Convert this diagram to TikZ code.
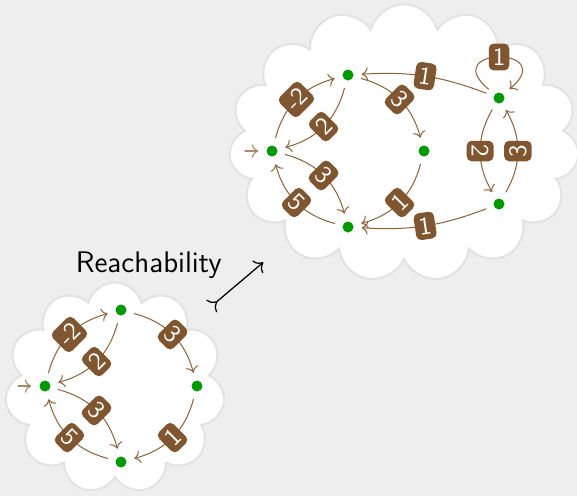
\documentclass[tikz,border=0pt]{standalone}
\usetikzlibrary{arrows.meta}
\usetikzlibrary{positioning}
\usetikzlibrary{shapes.symbols}
\definecolor{rcpaper}{HTML}{EEEEEE}
\definecolor{rcrim}{HTML}{E2E2E2}
\definecolor{rcbrown}{HTML}{7F5630}
\definecolor{rcline}{HTML}{8B6239}
\definecolor{rcstart}{HTML}{A88B6C}
\definecolor{rcgreen}{HTML}{009900}
\tikzset{
  rcstate/.style={
    circle, fill=rcgreen, minimum size=4.4pt, inner sep=0pt,
    outer sep=3.3pt},
  rcweight/.style={
    fill=rcbrown, text=white, rounded corners=2pt, inner xsep=1.6pt,
    inner ysep=2pt, font=\sffamily, sloped},
  rcedge/.style={->, draw=rcline, line width=0.4pt},
  rcinit/.style={->, draw=rcstart, line width=0.45pt},
  rccloud/.style={
    cloud, cloud ignores aspect, draw=rcrim, fill=white,
    line width=0.8pt, cloud puffs=11},
  rcreach/.style={{To[reversed, scale=1.15]}-{To[scale=1.15]}, draw=black,
    line width=0.5pt, shorten <=12pt, shorten >=12.4pt},
  rclabel/.style={font=\sffamily\fontsize{11.9}{14}\selectfont},
  every picture/.style={line cap=round},
}
\begin{document}
\begin{tikzpicture}[x=0.4pt, y=0.4pt]

% Canvas.
\fill[rcpaper] (0, 0) rectangle (577, 496);
\useasboundingbox (0, 0) rectangle (577, 496);

% The two clouds.
\node[rccloud, minimum width=88pt, minimum height=84.5pt]
  (lowcloud) at (115, 108) {};
\node[rccloud, cloud puffs=15, minimum width=140pt,
      minimum height=111pt] (highcloud) at (404, 353) {};

% The automaton before.
\node[rcstate] (lowleft) at (45, 110) {};
\node[rcstate] (lowtop) at (121, 186) {};
\node[rcstate] (lowright) at (197, 110) {};
\node[rcstate] (lowbottom) at (121, 34) {};
\coordinate (lowstart) at (18, 110);
\draw[rcinit] (lowstart) -- (lowleft);
\path[rcedge]
  (lowleft) edge[bend left=30] node[rcweight] {-2} (lowtop)
  (lowtop) edge[bend left=30] node[rcweight] {2} (lowleft)
  (lowtop) edge[bend left=30] node[rcweight] {3} (lowright)
  (lowright) edge[bend left=30] node[rcweight] {1} (lowbottom)
  (lowleft) edge[bend left=30] node[rcweight] {3} (lowbottom)
  (lowbottom) edge[bend left=30] node[rcweight] {5} (lowleft);

% The automaton after.
\node[rcstate] (highleft) at (272, 345) {};
\node[rcstate] (hightop) at (348, 421) {};
\node[rcstate] (highright) at (424, 345) {};
\node[rcstate] (highbottom) at (348, 269) {};
\node[rcstate] (highupper) at (499, 398) {};
\node[rcstate] (highlower) at (499, 292) {};
\coordinate (highstart) at (245, 345);
\draw[rcinit] (highstart) -- (highleft);
\path[rcedge]
  (highleft) edge[bend left=30] node[rcweight] {-2} (hightop)
  (hightop) edge[bend left=30] node[rcweight] {2} (highleft)
  (hightop) edge[bend left=30] node[rcweight] {3} (highright)
  (highright) edge[bend left=30] node[rcweight] {1} (highbottom)
  (highleft) edge[bend left=30] node[rcweight] {3} (highbottom)
  (highbottom) edge[bend left=30] node[rcweight] {5} (highleft)
  (highupper) edge[bend right=12] node[rcweight] {1} (hightop)
  (highlower) edge[bend left=12] node[rcweight] {1} (highbottom)
  (highupper) edge[bend right=30] node[rcweight] {2} (highlower)
  (highlower) edge[bend right=30] node[rcweight] {3} (highupper);
\draw[rcedge] (highupper.140) .. controls +(140:26.7pt) and +(40:26.7pt)
  .. node[rcweight] {1} (highupper.40);

% From one cloud to the other.
\draw[rcreach] (lowcloud) -- node[rclabel, pos=0.43, above left=1pt and 0pt]
  {Reachability} (highcloud);

\end{tikzpicture}
\end{document}
